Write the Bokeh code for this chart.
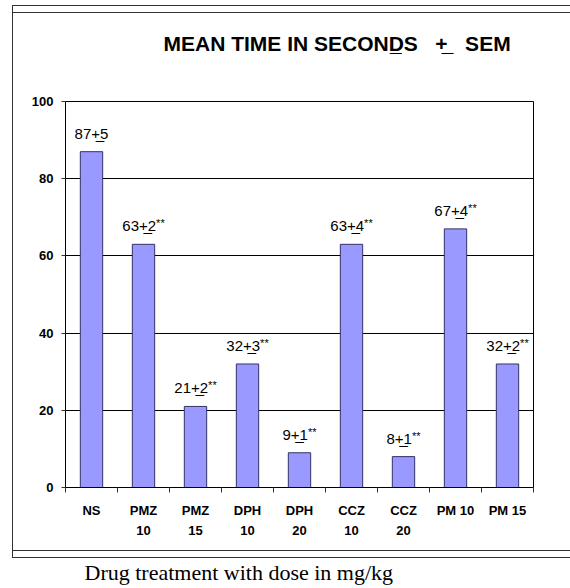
from bokeh.plotting import figure
from bokeh.models import (Range1d, FixedTicker, ColumnDataSource, LabelSet, Title, LinearAxis)
from bokeh.core.properties import value
from bokeh.embed import file_html
from bokeh.resources import INLINE

# ---- data ----
categories = ["NS", "PMZ 10", "PMZ 15", "DPH 10", "DPH 20", "CCZ 10", "CCZ 20", "PM 10", "PM 15"]
tick_line1 = ["NS", "PMZ", "PMZ", "DPH", "DPH", "CCZ", "CCZ", "PM 10", "PM 15"]
tick_line2 = ["", "10", "15", "10", "20", "10", "20", "", ""]
mean_time = [87, 63, 21, 32, 9, 63, 8, 67, 32]
sem = [5, 2, 2, 3, 1, 4, 1, 4, 2]
significance = ["", "**", "**", "**", "**", "**", "**", "**", "**"]
y_ticks = [0, 20, 40, 60, 80, 100]

UL = "\u0332"   # combining low line: underlines the preceding "+" (i.e. a ± sign)
title_text = "MEAN TIME IN SECOND" + UL + "S\u00a0\u00a0\u00a0+" + UL + "\u00a0\u00a0\u00a0SEM"
x_title = "Drug treatment with dose in mg/kg"

SANS = "Liberation Sans"
SERIF = "Liberation Serif"

n = len(categories)
xs = [i + 0.5 for i in range(n)]
bounds = list(range(n + 1))

main_txt = [f"{m}+{UL}{s}" for m, s in zip(mean_time, sem)]
# approximate widths so the label + superscript pair is centred over the bar
MAIN_PX, STAR_PX = 15, 11
def main_w(m, s):
    return (len(str(m)) + len(str(s))) * 0.556 * MAIN_PX + 0.584 * MAIN_PX
def star_w(t):
    return len(t) * 0.389 * STAR_PX
offs = [(main_w(m, s) - star_w(t)) / 2 for m, s, t in zip(mean_time, sem, significance)]

src = ColumnDataSource(dict(x=xs, mean=mean_time, main=main_txt, stars=significance, off=offs))

# chart-area frame (left line, double lines at top and bottom) painted as CSS backgrounds
LINE = "linear-gradient(#333333, #333333)"
frame_styles = {
    "background-color": "#ffffff",
    "background-image": ", ".join([LINE] * 5),
    "background-position": "12px 5px, 12px 12px, 12px 550px, 12px 557px, 12px 5px",
    "background-size": "558px 1px, 558px 1px, 558px 1px, 558px 1px, 1px 553px",
    "background-repeat": "no-repeat",
}

p = figure(width=570, height=588, x_range=Range1d(0, n), y_range=Range1d(0, 100),
           output_backend="svg", toolbar_location=None,
           min_border_left=65, min_border_right=37, min_border_top=101, min_border_bottom=101,
           styles=frame_styles)
p.background_fill_color = "white"
p.border_fill_color = None
p.outline_line_color = "black"
p.outline_line_width = 1
p.title.text = ""

p.vbar(x="x", top="mean", bottom=0, width=0.43, source=src,
       fill_color="#9999FF", line_color="#333366", line_width=1)

# grid
p.xgrid.visible = False
p.ygrid.ticker = FixedTicker(ticks=y_ticks)
p.ygrid.grid_line_color = "black"
p.ygrid.grid_line_width = 1

# y axis
ya = p.yaxis[0]
ya.ticker = FixedTicker(ticks=y_ticks)
ya.axis_line_color = "black"
ya.major_tick_line_color = "#333333"
ya.major_tick_in = 0
ya.major_tick_out = 4
ya.minor_tick_line_color = None
ya.major_label_standoff = 8
ya.major_label_text_font = SANS
ya.major_label_text_font_style = "bold"
ya.major_label_text_font_size = "13px"
ya.major_label_text_color = "black"

# x axis: ticks at category boundaries, first label line at centres
xa = p.xaxis[0]
xa.ticker = FixedTicker(ticks=xs, minor_ticks=bounds)
xa.axis_line_color = "black"
xa.major_tick_line_color = None
xa.major_tick_in = 0
xa.major_tick_out = 0
xa.minor_tick_line_color = "#333333"
xa.minor_tick_in = 0
xa.minor_tick_out = 5
xa.major_label_overrides = {x: t for x, t in zip(xs, tick_line1)}
xa.major_label_standoff = 10
xa.major_label_text_font = SANS
xa.major_label_text_font_style = "bold"
xa.major_label_text_font_size = "13px"
xa.major_label_text_color = "black"

# second line of the category labels (dose)
xa2 = LinearAxis(ticker=FixedTicker(ticks=xs, minor_ticks=[]),
                 major_label_overrides={x: t for x, t in zip(xs, tick_line2)},
                 axis_line_color=None, major_tick_line_color=None, minor_tick_line_color=None,
                 major_tick_in=0, major_tick_out=0, minor_tick_in=0, minor_tick_out=0,
                 major_label_standoff=5, major_label_text_font=SANS,
                 major_label_text_font_style="bold", major_label_text_font_size="13px",
                 major_label_text_color="black")
p.add_layout(xa2, "below")

def spacer(size):
    # an axis with one invisible tick, used only to reserve space in a side panel
    mid = n / 2
    return LinearAxis(ticker=FixedTicker(ticks=[mid], minor_ticks=[]), axis_line_color=None,
                      major_tick_line_color="white", major_tick_line_alpha=0.01,
                      minor_tick_line_color=None,
                      major_tick_in=0, major_tick_out=size, minor_tick_in=0, minor_tick_out=0,
                      major_label_overrides={mid: ""}, major_label_standoff=0,
                      major_label_text_font_size="0px")

p.add_layout(spacer(20), "below")
p.add_layout(Title(text=x_title, align="left", offset=19, standoff=0,
                   text_font=SERIF, text_font_style="normal", text_font_size="22px",
                   text_color="black"), "below")

p.add_layout(spacer(46), "above")
p.add_layout(Title(text=title_text, align="left", offset=98, standoff=1,
                   text_font=SANS, text_font_style="bold", text_font_size="21px",
                   text_color="black"), "above")

# value labels above the bars
p.add_layout(LabelSet(x="x", y="mean", text="main", source=src, x_offset="off", y_offset=13,
                      text_align="right", text_baseline="alphabetic",
                      text_font=value(SANS), text_font_size=f"{MAIN_PX}px", text_color="black"))
p.add_layout(LabelSet(x="x", y="mean", text="stars", source=src, x_offset="off", y_offset=17,
                      text_align="left", text_baseline="alphabetic",
                      text_font=value(SANS), text_font_size=f"{STAR_PX}px", text_color="black"))

open("out.html", "w").write(file_html(p, INLINE))
